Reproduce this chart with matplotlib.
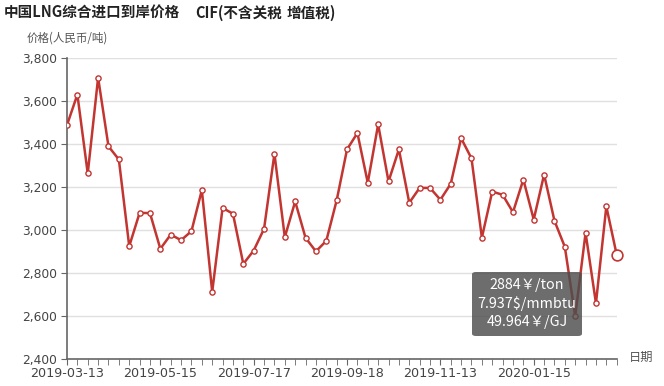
import matplotlib
matplotlib.use("Agg")
import matplotlib.pyplot as plt
from matplotlib.patches import FancyBboxPatch

plt.rcParams['font.family'] = ['Noto Sans CJK SC', 'DejaVu Sans']

title_main = "中国LNG综合进口到岸价格"
title_sub1 = "CIF(不含关税"
title_sub2 = "增值税)"
y_name = "价格(人民币/吨)"
x_name = "日期"

dates = [
    "2019-03-13", "2019-03-20", "2019-03-27", "2019-04-03", "2019-04-10", "2019-04-17",
    "2019-04-24", "2019-05-01", "2019-05-08", "2019-05-15", "2019-05-22", "2019-05-29",
    "2019-06-05", "2019-06-12", "2019-06-19", "2019-06-26", "2019-07-03", "2019-07-10",
    "2019-07-17", "2019-07-24", "2019-07-31", "2019-08-07", "2019-08-14", "2019-08-21",
    "2019-08-28", "2019-09-04", "2019-09-11", "2019-09-18", "2019-09-25", "2019-09-30",
    "2019-10-09", "2019-10-16", "2019-10-23", "2019-10-30", "2019-11-06", "2019-11-08",
    "2019-11-13", "2019-11-20", "2019-11-27", "2019-12-04", "2019-12-11", "2019-12-18",
    "2019-12-25", "2020-01-01", "2020-01-08", "2020-01-15", "2020-01-22", "2020-02-05",
    "2020-02-12", "2020-02-19", "2020-02-26", "2020-03-04", "2020-03-11", "2020-03-18",
]
prices = [
    3487, 3629, 3262, 3707, 3388, 3327, 2924, 3079, 3078, 2912,
    2978, 2952, 2994, 3185, 2712, 3102, 3075, 2842, 2904, 3005,
    3354, 2966, 3132, 2963, 2900, 2949, 3137, 3374, 3450, 3219,
    3490, 3225, 3374, 3126, 3195, 3195, 3140, 3214, 3426, 3332,
    2964, 3178, 3163, 3082, 3234, 3048, 3257, 3042, 2921, 2599,
    2986, 2659, 3109, 2884,
]
y_ticks = [2400, 2600, 2800, 3000, 3200, 3400, 3600, 3800]
tooltip_lines = ["2884￥/ton", "7.937$/mmbtu", "49.964￥/GJ"]

W, H = 664, 386
fig = plt.figure(figsize=(W / 100, H / 100), dpi=100)
ax = fig.add_axes([67 / W, 1 - 359 / H, (616.7 - 67) / W, (359 - 57.7) / H])

red = "#c23531"
xs = list(range(len(prices)))
ax.plot(xs, prices, color=red, lw=1.8, zorder=3)
ax.scatter(xs[:-1], prices[:-1], s=14, facecolor="white", edgecolor=red, lw=1.0, zorder=4)
ax.scatter([xs[-1]], [prices[-1]], s=60, facecolor="white", edgecolor=red, lw=1.2, zorder=5, clip_on=False)

ax.set_xlim(0, len(prices) - 1)
ax.set_ylim(2400, 3800)
ax.set_yticks(y_ticks)
ax.set_yticklabels([f"{v:,}" for v in y_ticks])
ax.set_xticks(xs, minor=True)
ax.set_xticks(xs[::9])
ax.set_xticklabels([dates[i] for i in xs[::9]])

for s in ["top", "right"]:
    ax.spines[s].set_visible(False)
for s in ["left", "bottom"]:
    ax.spines[s].set_color("#666666")
    ax.spines[s].set_linewidth(1.2)
ax.grid(axis="y", color="#e0e0e0", lw=1.0, zorder=0)
ax.tick_params(axis="y", which="major", length=4, color="#666666", labelcolor="#444444",
               labelsize=8.8, pad=3)
ax.tick_params(axis="x", which="both", length=4, color="#666666", labelcolor="#444444",
               labelsize=9.2, pad=2)
for lab in ax.get_xticklabels() + ax.get_yticklabels():
    lab.set_family(['DejaVu Sans'])

ty = 1 - 13 / H
fig.text(4 / W, ty, title_main, fontsize=10.5, fontweight="bold", color="#222222",
         va="center", ha="left")
fig.text(195 / W, ty, title_sub1, fontsize=10.5, fontweight="bold", color="#222222",
         va="center", ha="left")
fig.text(287 / W, ty, title_sub2, fontsize=10.5, fontweight="bold", color="#222222",
         va="center", ha="left")
fig.text(27 / W, 1 - 38 / H, y_name, fontsize=8.3, color="#555555", va="center", ha="left")
fig.text(629 / W, 1 - 357 / H, x_name, fontsize=8.8, color="#555555", va="center", ha="left")

# tooltip
bx0, by0, bx1, by1 = 472, 272, 582, 336
box = FancyBboxPatch((bx0 / W, 1 - by1 / H), (bx1 - bx0) / W, (by1 - by0) / H,
                     boxstyle="round,pad=0,rounding_size=0.006",
                     transform=fig.transFigure, facecolor=(0.3, 0.3, 0.3, 0.82),
                     edgecolor="none", zorder=10)
fig.patches.append(box)
for k, t in enumerate(tooltip_lines):
    fig.text((bx0 + bx1) / 2 / W, 1 - (285 + k * 18.5) / H, t, fontsize=10.3, color="white",
             ha="center", va="center", zorder=11)

fig.savefig("out.png", dpi=100)
